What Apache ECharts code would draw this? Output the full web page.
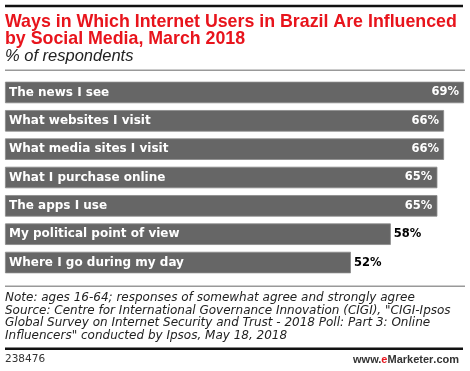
<!DOCTYPE html>
<html>
<head>
<meta charset="utf-8">
<script src="https://cdn.jsdelivr.net/npm/echarts@6/dist/echarts.min.js"></script>
<style>html,body{margin:0;padding:0;background:#fff;}#c{width:470px;height:371px;}</style>
</head>
<body>
<div id="c"></div>
<script>
const categories = ["The news I see","What websites I visit","What media sites I visit","What I purchase online","The apps I use","My political point of view","Where I go during my day"];
const values = [69,66,66,65,65,58,52];
const titleText = "Ways in Which Internet Users in Brazil Are Influenced\nby Social Media, March 2018";
const subtitleText = "% of respondents";
const noteText = 'Note: ages 16-64; responses of somewhat agree and strongly agree\nSource: Centre for International Governance Innovation (CIGI), "CIGI-Ipsos\nGlobal Survey on Internet Security and Trust - 2018 Poll: Part 3: Online\nInfluencers" conducted by Ipsos, May 18, 2018';
const chartId = "238476";

const chart = echarts.init(document.getElementById('c'), null, {renderer:'canvas'});
const valueItems = values.map(v => ({
  value: v,
  label: v >= 60
    ? {position:'insideRight', color:'#ffffff', distance:5}
    : {position:'right', color:'#000000', distance:3}
}));
chart.setOption({
  animation:false,
  title:[
    {text:titleText, left:5, top:13.5, padding:0, textStyle:{fontFamily:'Liberation Sans', fontWeight:'bold', fontSize:17.8, color:'#e8141c', lineHeight:17}},
    {text:subtitleText, left:5, top:48, padding:0, textStyle:{fontFamily:'Liberation Sans', fontStyle:'italic', fontWeight:'normal', fontSize:16.5, color:'#222'}},
    {text:noteText, left:5, top:291.5, padding:0, textStyle:{fontFamily:'DejaVu Sans', fontStyle:'italic', fontWeight:'normal', fontSize:12, color:'#222', lineHeight:12.7}},
    {text:chartId, left:5, top:354, padding:0, textStyle:{fontFamily:'DejaVu Sans', fontWeight:'normal', fontSize:10.5, color:'#333'}},
    {text:'{a|www.}{b|e}{c|Marketer}{a|.com}', right:11, top:354, padding:0, textStyle:{rich:{
      a:{fontFamily:'Liberation Sans', fontSize:11, color:'#333'},
      b:{fontFamily:'Liberation Sans', fontSize:11, fontWeight:'bold', color:'#e8141c'},
      c:{fontFamily:'Liberation Sans', fontSize:11, fontWeight:'bold', color:'#333'}}}}
  ],
  graphic:[
    {type:'rect', shape:{x:5, y:4.8, width:458, height:2.5}, style:{fill:'#111'}},
    {type:'rect', shape:{x:5, y:69.5, width:460, height:1.5}, style:{fill:'#999'}},
    {type:'rect', shape:{x:5, y:285.5, width:460, height:1.5}, style:{fill:'#999'}},
    {type:'rect', shape:{x:5, y:347.5, width:458, height:2.5}, style:{fill:'#111'}}
  ],
  grid:{left:5, right:6, top:78.3, height:198.4, containLabel:false},
  xAxis:{type:'value', min:0, max:69, show:false},
  yAxis:{type:'category', data:categories, inverse:true, show:false},
  series:[
    {type:'bar', data:values, barWidth:21.5, itemStyle:{color:'#666666', borderColor:'#8a8a8a', borderWidth:0.8},
     label:{show:true, position:'insideLeft', distance:4, formatter:'{b}', color:'#fff', fontFamily:'DejaVu Sans', fontWeight:'bold', fontSize:12}},
    {type:'bar', data:valueItems, barWidth:21.5, barGap:'-100%', itemStyle:{color:'rgba(0,0,0,0)'},
     label:{show:true, formatter:'{c}%', fontFamily:'DejaVu Sans', fontWeight:'bold', fontSize:11.5}}
  ]
});
</script>
</body>
</html>
